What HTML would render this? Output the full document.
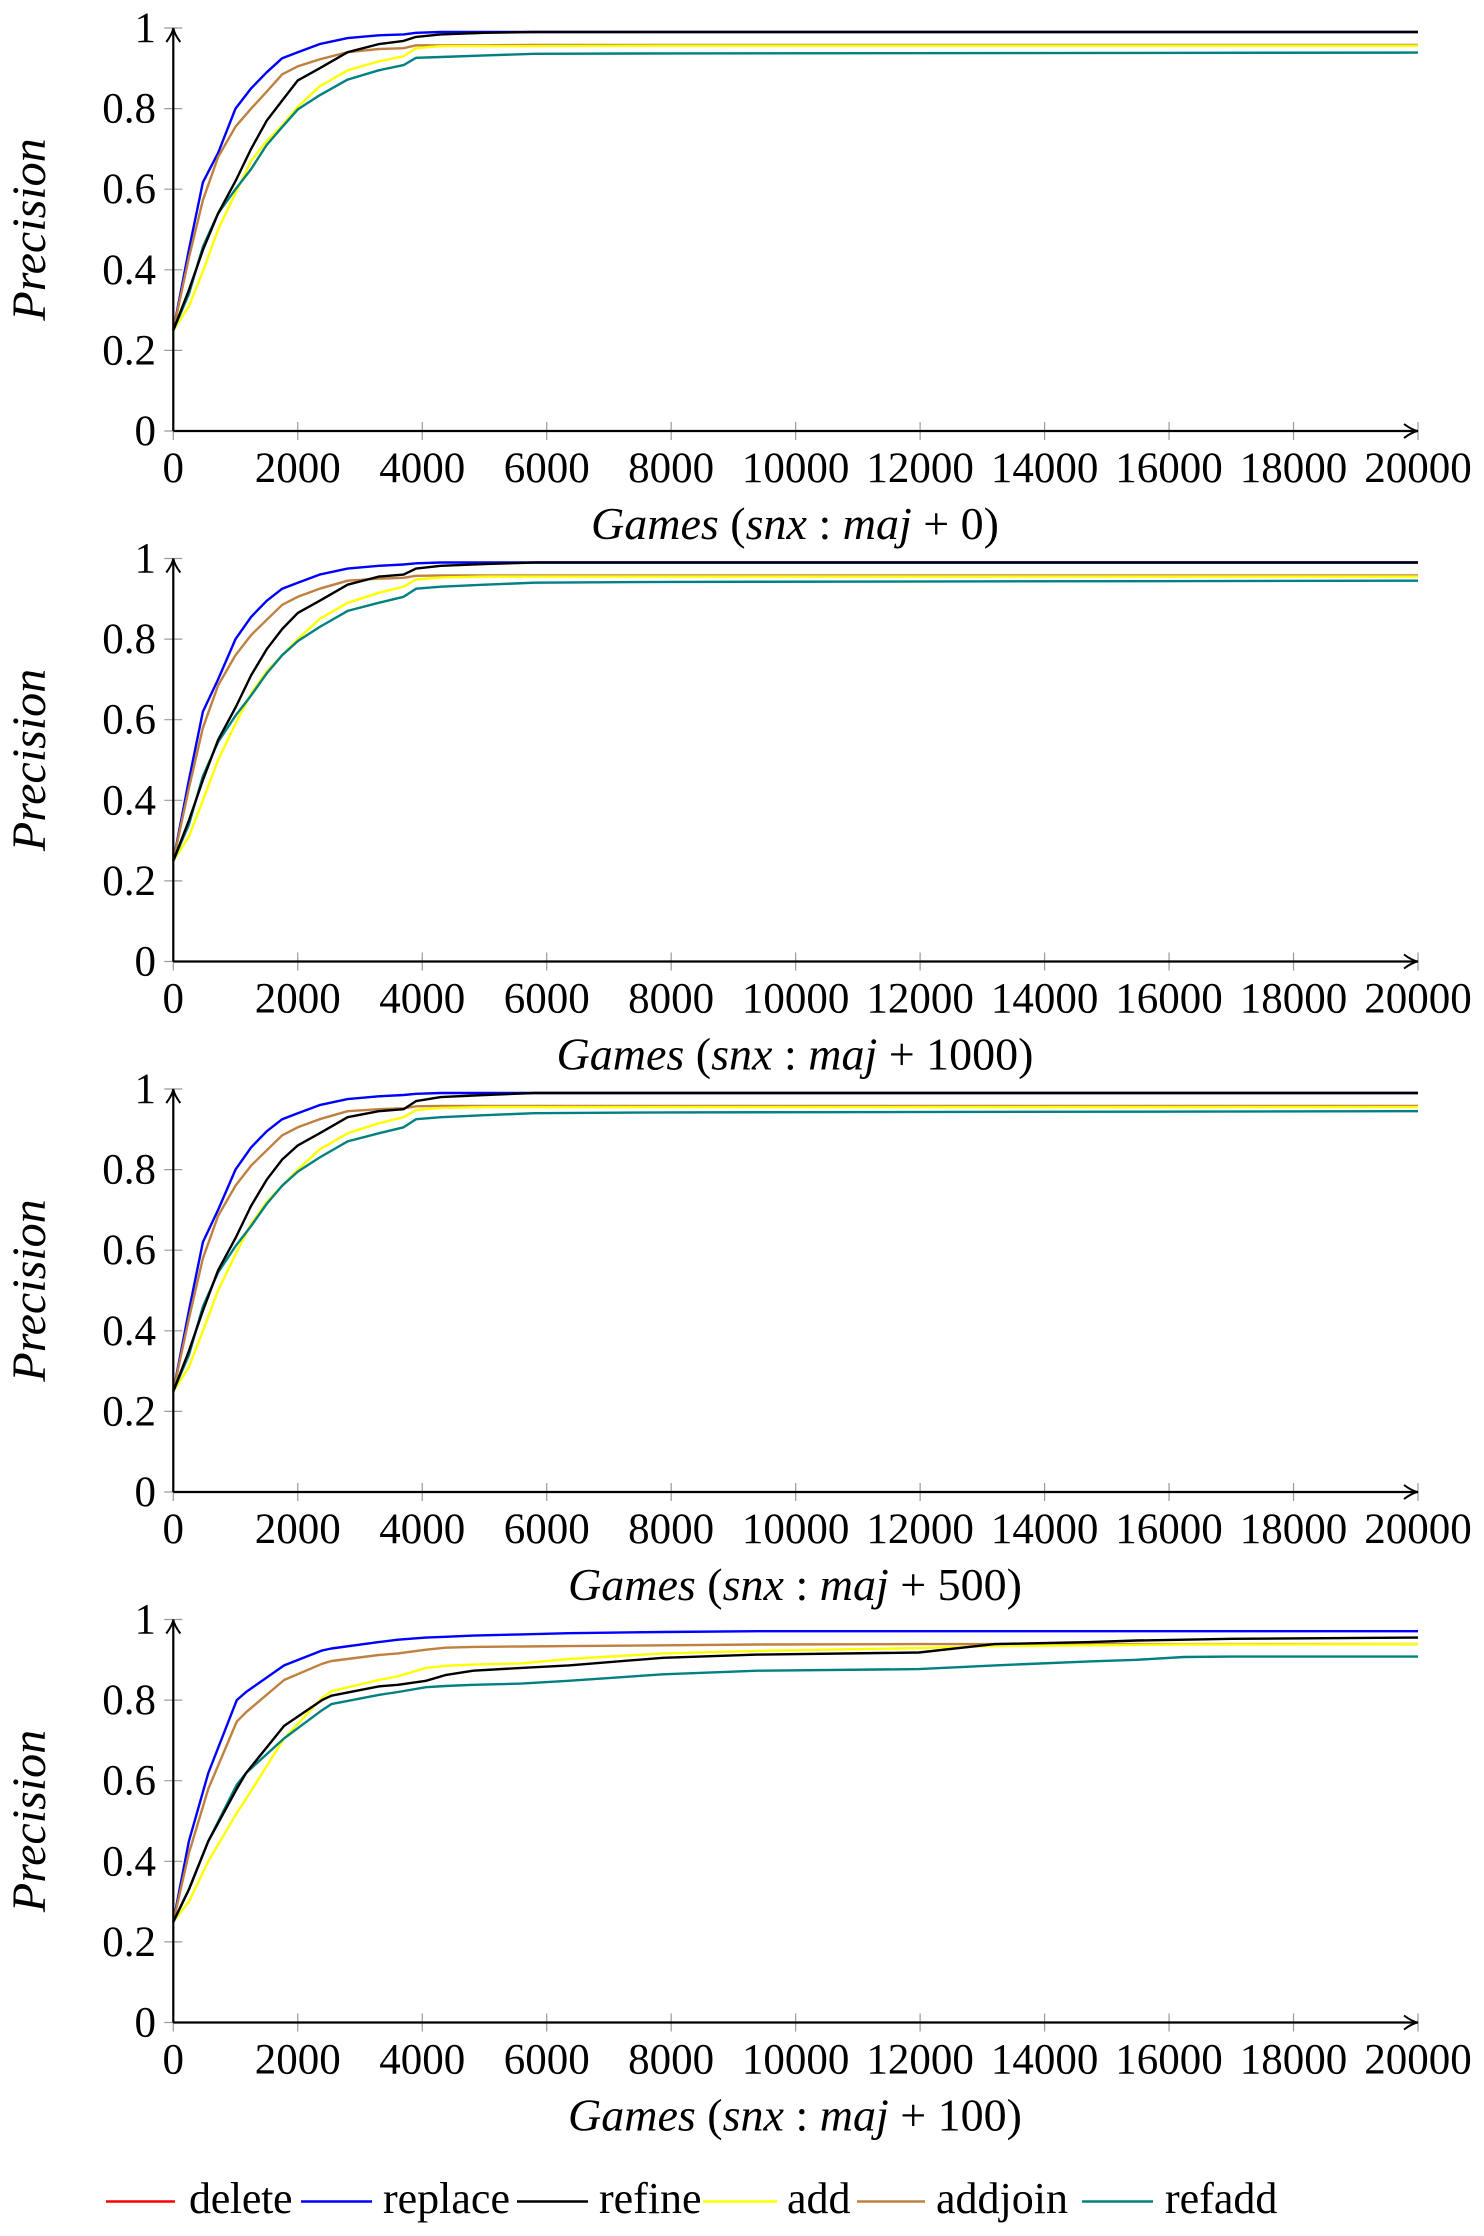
<!DOCTYPE html>
<html><head><meta charset="utf-8">
<style>
html,body{margin:0;padding:0;background:#fff;}
svg{display:block;}
text{font-family:"Liberation Serif",serif;fill:#000;}
</style></head>
<body>
<svg id="chart" width="1484" height="2236" viewBox="0 0 1484 2236" xmlns="http://www.w3.org/2000/svg"></svg>
<script>
// shared x sample points (games)
const xs1 = [0,250,475,720,1000,1250,1500,1750,2000,2350,2800,3300,3700,3900,4300,5000,5800,8000,20000];
// panel 1 (snx:maj+0)
const p1_replace = [0.25,0.45,0.617,0.69,0.80,0.85,0.89,0.925,0.94,0.96,0.975,0.982,0.984,0.988,0.99,0.99,0.99,0.99,0.99];
const p1_addjoin = [0.25,0.43,0.573,0.68,0.755,0.80,0.842,0.885,0.905,0.922,0.94,0.948,0.95,0.957,0.957,0.957,0.958,0.958,0.958];
const p1_refine  = [0.25,0.35,0.449,0.54,0.62,0.70,0.77,0.82,0.87,0.90,0.94,0.96,0.968,0.978,0.984,0.988,0.99,0.99,0.99];
const p1_add     = [0.25,0.31,0.396,0.50,0.59,0.67,0.72,0.758,0.805,0.855,0.895,0.917,0.93,0.95,0.955,0.955,0.955,0.956,0.956];
const p1_refadd  = [0.25,0.34,0.457,0.54,0.60,0.65,0.71,0.754,0.798,0.833,0.872,0.895,0.908,0.926,0.928,0.932,0.936,0.937,0.939];
// panel 2 (snx:maj+1000)
const p2_replace = [0.25,0.45,0.62,0.70,0.80,0.855,0.895,0.925,0.94,0.96,0.975,0.982,0.985,0.988,0.99,0.99,0.99,0.99,0.99];
const p2_addjoin = [0.25,0.43,0.58,0.685,0.76,0.81,0.848,0.885,0.905,0.925,0.945,0.95,0.952,0.957,0.958,0.958,0.958,0.958,0.958];
const p2_refine  = [0.25,0.35,0.45,0.55,0.63,0.71,0.775,0.825,0.865,0.895,0.935,0.955,0.96,0.975,0.982,0.986,0.99,0.99,0.99];
const p2_add     = [0.25,0.31,0.40,0.50,0.59,0.665,0.72,0.76,0.80,0.85,0.89,0.915,0.93,0.948,0.953,0.955,0.955,0.955,0.955];
const p2_refadd  = [0.25,0.34,0.46,0.545,0.61,0.66,0.715,0.76,0.795,0.83,0.87,0.89,0.905,0.925,0.93,0.935,0.94,0.942,0.945];
// panel 3 (snx:maj+500)
const p3_replace = [0.25,0.45,0.62,0.70,0.80,0.855,0.895,0.925,0.94,0.96,0.975,0.982,0.985,0.988,0.99,0.99,0.99,0.99,0.99];
const p3_addjoin = [0.25,0.43,0.58,0.685,0.76,0.81,0.848,0.885,0.905,0.925,0.945,0.95,0.952,0.957,0.958,0.958,0.958,0.958,0.958];
const p3_refine  = [0.25,0.35,0.45,0.55,0.63,0.71,0.775,0.825,0.86,0.89,0.93,0.945,0.95,0.97,0.98,0.985,0.99,0.99,0.99];
const p3_add     = [0.25,0.31,0.40,0.50,0.59,0.665,0.72,0.76,0.80,0.85,0.89,0.915,0.93,0.948,0.953,0.955,0.955,0.955,0.955];
const p3_refadd  = [0.25,0.34,0.46,0.545,0.61,0.66,0.715,0.76,0.795,0.83,0.87,0.89,0.905,0.925,0.93,0.935,0.94,0.942,0.945];
// panel 4 (snx:maj+100)
const xs4 = [0,250,563,1020,1170,1780,2390,2540,3300,3610,4060,4370,4820,5590,6350,7870,9390,11980,13200,14720,15480,16240,17000,20000];
const p4_replace = [0.25,0.45,0.619,0.80,0.82,0.886,0.923,0.928,0.944,0.95,0.955,0.957,0.96,0.963,0.966,0.969,0.971,0.971,0.971,0.971,0.971,0.971,0.971,0.971];
const p4_addjoin = [0.25,0.42,0.58,0.747,0.77,0.85,0.89,0.897,0.912,0.916,0.925,0.93,0.932,0.933,0.934,0.936,0.938,0.939,0.939,0.939,0.939,0.939,0.939,0.939];
const p4_refine  = [0.25,0.33,0.45,0.58,0.619,0.736,0.80,0.811,0.834,0.838,0.848,0.862,0.873,0.88,0.886,0.905,0.913,0.918,0.939,0.944,0.948,0.95,0.952,0.955];
const p4_add     = [0.25,0.30,0.40,0.52,0.555,0.705,0.805,0.822,0.85,0.859,0.88,0.885,0.888,0.891,0.902,0.916,0.922,0.929,0.934,0.936,0.937,0.938,0.938,0.939];
const p4_refadd  = [0.25,0.33,0.45,0.59,0.619,0.705,0.775,0.79,0.813,0.82,0.832,0.835,0.838,0.841,0.848,0.864,0.873,0.877,0.886,0.896,0.9,0.907,0.908,0.908];

const xTicks = [0,2000,4000,6000,8000,10000,12000,14000,16000,18000,20000];
const yTicks = [0,0.2,0.4,0.6,0.8,1];
const panelSuffix = ["0","1000","500","100"];
const legendNames = ["delete","replace","refine","add","addjoin","refadd"];
const legendColors = ["#ff0000","#0000ff","#000000","#ffff00","#bf8040","#008080"];

const panels = [
  {xs:xs1, s:[["replace",p1_replace,"#0000ff"],["addjoin",p1_addjoin,"#bf8040"],["add",p1_add,"#ffff00"],["refadd",p1_refadd,"#008080"],["refine",p1_refine,"#000000"]]},
  {xs:xs1, s:[["replace",p2_replace,"#0000ff"],["addjoin",p2_addjoin,"#bf8040"],["add",p2_add,"#ffff00"],["refadd",p2_refadd,"#008080"],["refine",p2_refine,"#000000"]]},
  {xs:xs1, s:[["replace",p3_replace,"#0000ff"],["addjoin",p3_addjoin,"#bf8040"],["add",p3_add,"#ffff00"],["refadd",p3_refadd,"#008080"],["refine",p3_refine,"#000000"]]},
  {xs:xs4, s:[["replace",p4_replace,"#0000ff"],["addjoin",p4_addjoin,"#bf8040"],["add",p4_add,"#ffff00"],["refadd",p4_refadd,"#008080"],["refine",p4_refine,"#000000"]]}
];

const NS = "http://www.w3.org/2000/svg";
const svg = document.getElementById("chart");
const X0 = 173.3, X1 = 1418, PH = 403, PTOP = 28, PSTEP = 530.5;
function mk(tag, attrs, parent){ const e=document.createElementNS(NS,tag); for(const k in attrs) e.setAttribute(k,attrs[k]); (parent||svg).appendChild(e); return e; }
function sx(v){ return X0 + v/20000*(X1-X0); }

panels.forEach((p, i) => {
  const top = PTOP + i*PSTEP, bot = top + PH;
  const sy = v => bot - v*PH;
  const g = mk("g", {});
  
  
  xTicks.forEach(t => {
    const l = mk("line",{x1:sx(t),x2:sx(t),y1:bot-9,y2:bot+9,stroke:"#999","stroke-width":1.2}, g);
    
    
    const tx = mk("text",{x:sx(t),y:bot+51,"text-anchor":"middle","font-size":43}, g);
    
    
    tx.textContent = t;
  });
  yTicks.forEach(t => {
    const l = mk("line",{x1:X0-9,x2:X0+9,y1:sy(t),y2:sy(t),stroke:"#999","stroke-width":1.2}, g);
    
    
    const tx = mk("text",{x:156,y:sy(t)+14,"text-anchor":"end","font-size":43}, g);
    
    
    tx.textContent = t;
  });
  p.s.forEach(([name, vals, col]) => {
    const d = vals.map((v,k)=> (k?"L":"M") + sx(p.xs[k]).toFixed(1) + "," + sy(v).toFixed(1)).join(" ");
    const path = mk("path",{d:d,fill:"none",stroke:col,"stroke-width":2.4,"stroke-linejoin":"round"}, g);
    
    
  });
  const ax = mk("path",{d:`M${X0},${bot} L${X1-4},${bot} M${X0},${bot} L${X0},${top+4}`,stroke:"#000","stroke-width":2.2,fill:"none"}, g);
  
  
  const ar1 = mk("path",{d:`M${X1-14},${bot-7} Q${X1-6},${bot-1} ${X1},${bot} Q${X1-6},${bot+1} ${X1-14},${bot+7}`,stroke:"#000","stroke-width":2,fill:"none"}, g);
  
  
  const ar2 = mk("path",{d:`M${X0-7},${top+14} Q${X0-1},${top+6} ${X0},${top} Q${X0+1},${top+6} ${X0+7},${top+14}`,stroke:"#000","stroke-width":2,fill:"none"}, g);
  
  
  const yt = mk("text",{x:0,y:0,"text-anchor":"middle","font-size":48,"font-style":"italic",transform:`translate(45,${top+PH/2}) rotate(-90)`}, g);
  
  
  yt.textContent = "Precision";
  const xt = mk("text",{x:795,y:bot+108,"text-anchor":"middle","font-size":46}, g);
  
  
  const parts = [["Games",1],[" (",0],["snx",1],[" : ",0],["maj",1],[" + "+panelSuffix[i]+")",0]];
  parts.forEach(([s,it]) => { const ts = mk("tspan", it?{"font-style":"italic"}:{}, xt); ts.textContent = s; });
});

const legLine = [[106,175],[301,372],[517,588],[703,777],[857,925],[1082,1153]];
const legText = [187,381,597,785,934,1163];
legendNames.forEach((n,k) => {
  const g = mk("g",{});
  
  
  mk("line",{x1:legLine[k][0],x2:legLine[k][1],y1:2201.5,y2:2201.5,stroke:legendColors[k],"stroke-width":2.4}, g);
  const t = mk("text",{x:legText[k]+2,y:2213,"font-size":44,"letter-spacing":k==0?"-0.3":"0"}, g);
  t.textContent = n;
});
</script>
</body></html>
